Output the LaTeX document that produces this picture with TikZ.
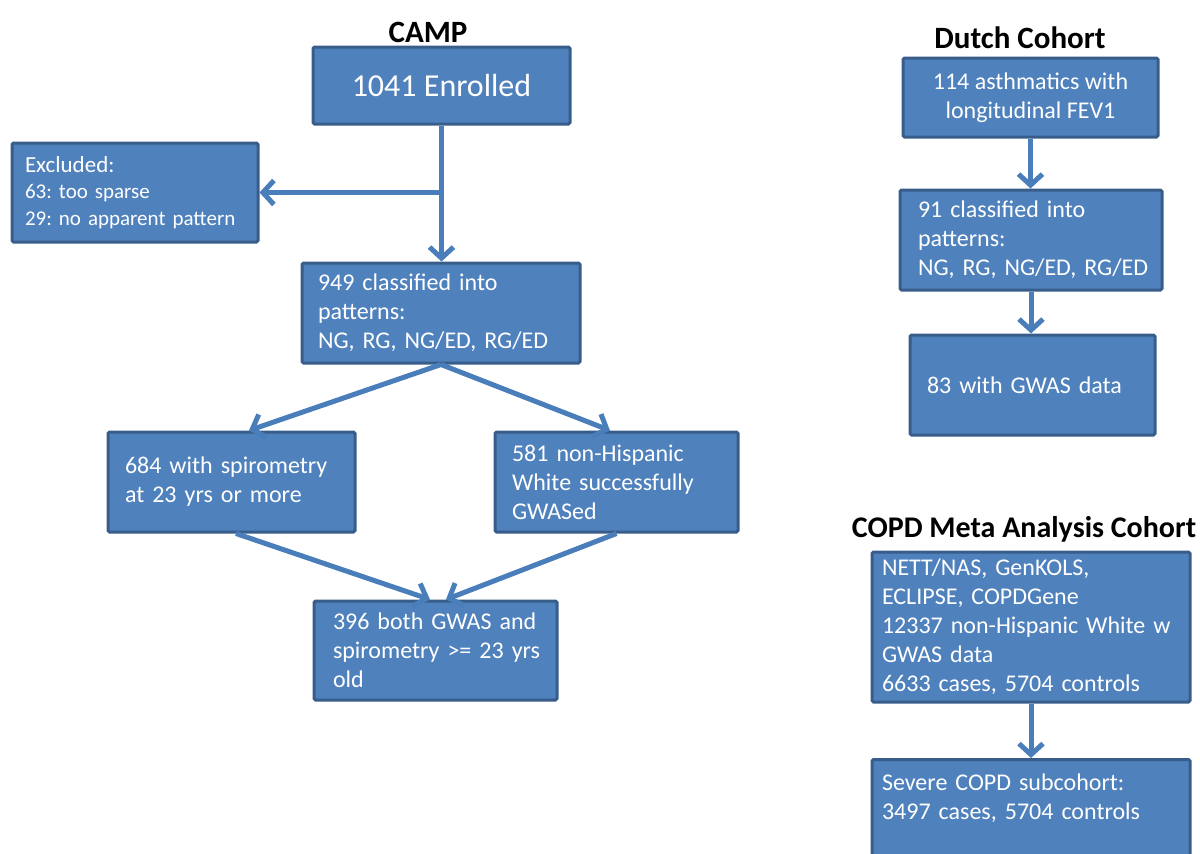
\documentclass[tikz,border=0pt]{standalone}
\usepackage{fontspec}
\setmainfont{Carlito}
\frenchspacing
\usetikzlibrary{arrows.meta,calc}
\definecolor{boxfill}{RGB}{79,129,189}
\definecolor{boxline}{RGB}{56,93,138}
\definecolor{arrowcol}{RGB}{74,126,187}
\tikzset{
  box/.style={draw=boxline, line width=3pt, fill=boxfill, text=white,
    rounded corners=1.5pt, inner ysep=0pt, font=\fontsize{24}{29}\selectfont},
  lbox/.style={box, align=left},
  cbox/.style={box, align=center},
  flow/.style={draw=arrowcol, line width=5pt, -{Straight Barb[length=11pt,width=24pt]}},
  ttl/.style={font=\bfseries\fontsize{31}{36}\selectfont, anchor=base, inner sep=0pt, text=black},
}
\begin{document}
\begin{tikzpicture}[x=1pt,y=-1pt]
\useasboundingbox (0,0) rectangle (1200,854);
\clip (0,0) rectangle (1200,854);

% titles
\node[ttl] (tcamp) at (428,42) {CAMP};
\node[ttl] (tdutch) at (1020,48) {Dutch Cohort};
\node[ttl, font=\bfseries\fontsize{30}{36}\selectfont] (tcopd) at (1024,537) {COPD Meta Analysis Cohort};

% CAMP column
\node[cbox, minimum width=257pt, minimum height=77pt, font=\fontsize{32}{38}\selectfont] (enr) at (441.5,85.5) {1041 Enrolled};
\node[lbox, minimum width=246pt, minimum height=99pt, inner xsep=13pt, text width=220pt, font=\fontsize{21}{26.5}\selectfont] (exc) at (135,192.5)
  {{\fontsize{23}{26.5}\selectfont Excluded:}\\\mbox{63: too sparse}\\\mbox{29: no apparent pattern}};
\node[lbox, minimum width=278pt, minimum height=100pt, inner xsep=16pt, text width=246pt] (cls) at (441,313)
  {\mbox{949 classified into}\\patterns:\\\mbox{NG, RG, NG/ED, RG/ED}};
\node[lbox, minimum width=247pt, minimum height=100pt, inner xsep=17pt, text width=213pt] (spi) at (231.5,482)
  {\mbox{684 with spirometry}\\\mbox{at 23 yrs or more}};
\node[lbox, minimum width=243pt, minimum height=100pt, inner xsep=17pt, text width=209pt] (gwa) at (616.5,482)
  {\mbox{581 non-Hispanic}\\\mbox{White successfully}\\GWASed};
\node[lbox, minimum width=243pt, minimum height=99pt, inner xsep=19pt, text width=205pt] (both) at (435.5,650.5)
  {\mbox{396 both GWAS and}\\\mbox{spirometry >= 23 yrs}\\old};

% Dutch column
\node[cbox, minimum width=255pt, minimum height=79pt] (dt1) at (1030.5,97.5)
  {\mbox{114 asthmatics with}\\\mbox{longitudinal FEV1}};
\node[lbox, minimum width=262pt, minimum height=100pt, inner xsep=18pt, text width=226pt] (dt2) at (1031,240)
  {\mbox{91 classified into}\\patterns:\\\mbox{NG, RG, NG/ED, RG/ED}};
\node[lbox, minimum width=245pt, minimum height=100pt, inner xsep=17pt, text width=211pt] (dt3) at (1032.5,385)
  {\mbox{83 with GWAS data}};

% COPD column
\node[lbox, minimum width=318pt, minimum height=150pt, inner xsep=10pt, text width=298pt] (cp1) at (1031,627)
  {\mbox{NETT/NAS, GenKOLS,}\\\mbox{ECLIPSE, COPDGene}\\\mbox{12337 non-Hispanic White w}\\\mbox{GWAS data}\\\mbox{6633 cases, 5704 controls}};
\node[lbox, anchor=north, minimum width=318pt, inner xsep=10pt, inner ysep=14pt, text width=298pt, text depth=60pt] (cp2) at (1031,758)
  {\mbox{Severe COPD subcohort:}\\\mbox{3497 cases, 5704 controls}};

% connectors
\draw[flow] (enr.south) -- (enr.south |- cls.north);
\coordinate (br) at (enr.south |- exc.east);
\draw[flow] (br) -- (exc.east);
\draw[flow] (cls.south) -- ([xshift=17.5pt]spi.north);
\draw[flow] (cls.south) -- ([xshift=-6.5pt]gwa.north);
\draw[flow] ([xshift=4.5pt]spi.south) -- ([xshift=-5.5pt]both.north);
\draw[flow] (gwa.south) -- ([xshift=10.5pt]both.north);
\draw[flow] (dt1.south) -- (dt1.south |- dt2.north);
\draw[flow] (dt2.south) -- (dt2.south |- dt3.north);
\draw[flow] (cp1.south) -- (cp1.south |- cp2.north);
\end{tikzpicture}
\end{document}
